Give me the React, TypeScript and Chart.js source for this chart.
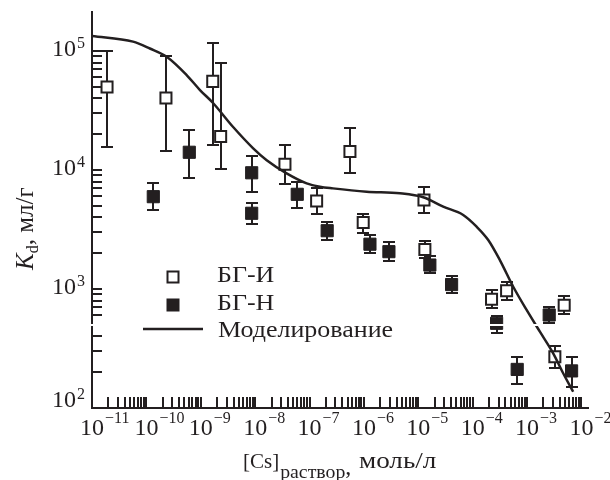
import React, { useEffect, useRef } from "react";
import { Chart, registerables } from "chart.js";

Chart.register(...registerables);

// ---------- data ----------
// БГ-И (open squares)
const openX = [1.89e-11, 2.29e-10, 1.66e-9, 2.32e-9, 3.53e-8, 1.35e-7, 5.53e-7, 9.7e-7, 1.27e-5, 1.32e-5, 2.22e-4, 4.2e-4, 3.24e-3, 4.81e-3];
const openY = [4.98e4, 4.03e4, 5.56e4, 1.91e4, 1.12e4, 5.48e3, 1.43e4, 3.62e3, 5.6e3, 2.15e3, 819, 968, 270, 729];
const openLow = [1.56e4, 1.45e4, 1.62e4, 1.02e4, 7.59e3, 4.27e3, 9.38e3, 2.97e3, 4.33e3, 1.81e3, 689, 809, 216, 617];
const openHigh = [1.0e5, 9.14e4, 1.17e5, 7.89e4, 1.62e4, 7.01e3, 2.24e4, 4.31e3, 7.24e3, 2.55e3, 981, 1140, 332, 873];

// БГ-Н (filled squares)
const filledX = [1.34e-10, 6.15e-10, 8.63e-9, 8.63e-9, 5.94e-8, 2.11e-7, 1.29e-6, 2.88e-6, 1.63e-5, 4.09e-5, 2.75e-4, 6.58e-4, 2.55e-3, 6.58e-3];
const filledY = [5.97e3, 1.41e4, 9.48e3, 4.33e3, 6.25e3, 3.09e3, 2.38e3, 2.06e3, 1.59e3, 1.09e3, 515, 211, 605, 205];
const filledLow = [4.61e3, 8.51e3, 6.58e3, 3.52e3, 4.77e3, 2.58e3, 2.0e3, 1.72e3, 1.36e3, 920, 430, 159, 515, 151];
const filledHigh = [7.73e3, 2.17e4, 1.31e4, 5.31e3, 7.98e3, 3.68e3, 2.84e3, 2.47e3, 1.89e3, 1.29e3, 593, 270, 710, 267];

// Моделирование (model curve)
const modelX = [1e-11, 5.68e-11, 1.16e-10, 2.36e-10, 5.5e-10, 9.66e-10, 1.68e-9, 3.9e-9, 9.1e-9, 1.63e-8, 3.79e-8, 8.85e-8, 1.55e-7, 2.69e-7, 1.12e-6, 4.59e-6, 1.23e-5, 2.87e-5, 6.69e-5, 1.18e-4, 1.93e-4, 3.16e-4, 5.56e-4, 9.8e-4, 1.72e-3, 3.02e-3, 4.61e-3, 7.03e-3];
const modelY = [1.34e5, 1.2e5, 1.05e5, 8.95e4, 6.28e4, 4.7e4, 3.66e4, 2.31e4, 1.53e4, 1.21e4, 9.38e3, 7.73e3, 7.24e3, 7.01e3, 6.58e3, 6.37e3, 5.9e3, 4.92e3, 4.19e3, 3.34e3, 2.58e3, 1.75e3, 1045, 667, 438, 288, 196, 137];

// axis tick exponents
const xTickExps = [-11, -10, -9, -8, -7, -6, -5, -4, -3, -2];
const yTickExps = [2, 3, 4, 5];
const X_MIN = 1e-11;
const X_MAX = Math.pow(10, -1.88);
const Y_MIN = 100;
const Y_MAX = Math.pow(10, 5.328);

const legendLabels = ["БГ-И", "БГ-Н", "Моделирование"];

// ---------- styling ----------
const INK = "#231f20";
const FONT = '"Liberation Serif", "Times New Roman", serif';

function drawText(
  ctx: CanvasRenderingContext2D,
  text: string,
  x: number,
  y: number,
  size: number,
  opts: { sx?: number; italic?: boolean; align?: "left" | "center" | "right" } = {}
) {
  const sx = opts.sx ?? 1;
  ctx.save();
  ctx.font = `${opts.italic ? "italic " : ""}${size}px ${FONT}`;
  const w = ctx.measureText(text).width * sx;
  let left = x;
  if (opts.align === "center") left = x - w / 2;
  else if (opts.align === "right") left = x - w;
  ctx.translate(left, y);
  ctx.scale(sx, 1);
  ctx.textAlign = "left";
  ctx.textBaseline = "alphabetic";
  ctx.fillStyle = INK;
  ctx.fillText(text, 0, 0);
  ctx.restore();
  return w;
}

function line(ctx: CanvasRenderingContext2D, x1: number, y1: number, x2: number, y2: number) {
  ctx.beginPath();
  ctx.moveTo(x1, y1);
  ctx.lineTo(x2, y2);
  ctx.stroke();
}

const decorPlugin = {
  id: "decor",
  beforeDatasetsDraw(chart: any) {
    const ctx: CanvasRenderingContext2D = chart.ctx;
    const xs = chart.scales.x;
    const ys = chart.scales.y;
    ctx.save();
    ctx.strokeStyle = INK;
    ctx.lineWidth = 2;
    const bars = (X: number[], lo: number[], hi: number[]) => {
      for (let i = 0; i < X.length; i++) {
        const px = Math.round(xs.getPixelForValue(X[i]));
        const p1 = Math.round(ys.getPixelForValue(hi[i]));
        const p2 = Math.round(ys.getPixelForValue(lo[i]));
        line(ctx, px, p1, px, p2);
        line(ctx, px - 6, p1, px + 6, p1);
        line(ctx, px - 6, p2, px + 6, p2);
      }
    };
    bars(openX, openLow, openHigh);
    bars(filledX, filledLow, filledHigh);
    ctx.restore();
  },
  afterDraw(chart: any) {
    const ctx: CanvasRenderingContext2D = chart.ctx;
    const xs = chart.scales.x;
    const ys = chart.scales.y;
    const area = chart.chartArea;
    ctx.save();
    ctx.strokeStyle = INK;
    ctx.lineWidth = 2;
    // x ticks (inward)
    xTickExps.forEach((e, idx) => {
      const last = idx === xTickExps.length - 1;
      for (let m = 1; m <= (last ? 1 : 9); m++) {
        const px = Math.round(xs.getPixelForValue(m * Math.pow(10, e)));
        line(ctx, px, area.bottom, px, area.bottom - 11);
      }
    });
    // y ticks (inward)
    yTickExps.forEach((e, idx) => {
      const last = idx === yTickExps.length - 1;
      for (let m = 1; m <= (last ? 1 : 9); m++) {
        const py = Math.round(ys.getPixelForValue(m * Math.pow(10, e)));
        line(ctx, area.left, py, area.left + 10, py);
      }
    });

    // thin white stripe (scan artefact across legend row)
    ctx.fillStyle = "#fff";
    ctx.fillRect(area.left - 6, 324, 456, 2);

    // x tick labels
    xTickExps.forEach((e) => {
      const px = xs.getPixelForValue(Math.pow(10, e));
      ctx.font = `24px ${FONT}`;
      const w = ctx.measureText("10").width;
      drawText(ctx, "10", px - w / 2, 435, 24);
      drawText(ctx, "\u2212" + Math.abs(e), px + w / 2 + 1, 423, 16);
    });
    // y tick labels
    yTickExps.forEach((e, idx) => {
      const py = ys.getPixelForValue(Math.pow(10, e));
      const base = idx === 0 ? py - 1 : py + 5;
      drawText(ctx, "10", 76, base, 24, { align: "right" });
      drawText(ctx, String(e), 77, base - 8, 16);
    });

    // legend
    ctx.lineWidth = 2;
    ctx.fillStyle = "#fff";
    ctx.strokeStyle = INK;
    ctx.fillRect(173 - 5.5, 277 - 5.5, 11, 11);
    ctx.strokeRect(173 - 5.5, 277 - 5.5, 11, 11);
    ctx.fillStyle = INK;
    ctx.fillRect(173 - 6.5, 305 - 6.5, 13, 13);
    ctx.lineWidth = 2.5;
    line(ctx, 143, 329, 203, 329);
    drawText(ctx, legendLabels[0], 217, 282, 23, { sx: 1.13 });
    drawText(ctx, legendLabels[1], 217, 310, 23, { sx: 1.13 });
    drawText(ctx, legendLabels[2], 218, 337, 23, { sx: 1.13 });

    // x title
    let cx = 243;
    cx += drawText(ctx, "[Cs]", cx, 468, 21);
    cx += drawText(ctx, "раствор", cx + 1, 478, 18, { sx: 1.1 }) + 1;
    drawText(ctx, ",", cx, 474, 24);
    drawText(ctx, "моль/л", 359, 468, 24, { sx: 1.13 });

    // y title (rotated)
    ctx.save();
    ctx.translate(33, 270);
    ctx.rotate(-Math.PI / 2);
    let tx = 0;
    tx += drawText(ctx, "K", tx, 0, 25, { italic: true });
    tx += drawText(ctx, "d", tx, 5, 16);
    drawText(ctx, ", мл/г", tx, 0, 25);
    ctx.restore();

    ctx.restore();
  },
};

export default function App() {
  const ref = useRef<HTMLCanvasElement>(null);
  useEffect(() => {
    const canvas = ref.current;
    if (!canvas) return;
    const chart = new Chart(canvas, {
      type: "scatter",
      data: {
        datasets: [
          {
            label: legendLabels[2],
            data: modelX.map((x, i) => ({ x, y: modelY[i] })),
            showLine: true,
            pointRadius: 0,
            borderColor: INK,
            borderWidth: 2.5,
            cubicInterpolationMode: "monotone",
            fill: false,
          } as any,
          {
            label: legendLabels[0],
            data: openX.map((x, i) => ({ x, y: openY[i] })),
            pointStyle: "rect",
            pointRadius: 7.8,
            pointBorderWidth: 2,
            pointBackgroundColor: "#fff",
            pointBorderColor: INK,
            borderColor: INK,
            backgroundColor: "#fff",
          },
          {
            label: legendLabels[1],
            data: filledX.map((x, i) => ({ x, y: filledY[i] })),
            pointStyle: "rect",
            pointRadius: 8.6,
            pointBorderWidth: 1,
            pointBackgroundColor: INK,
            pointBorderColor: INK,
            borderColor: INK,
            backgroundColor: INK,
          },
        ],
      },
      options: {
        responsive: false,
        animation: false,
        devicePixelRatio: 1,
        layout: { padding: { left: 92, top: 12, right: 22, bottom: 72 }, autoPadding: false } as any,
        plugins: { legend: { display: false }, tooltip: { enabled: false } },
        scales: {
          x: {
            type: "logarithmic",
            min: X_MIN,
            max: X_MAX,
            grid: { display: false, drawTicks: false },
            ticks: { display: false },
            border: { display: true, color: INK, width: 2 },
          },
          y: {
            type: "logarithmic",
            min: Y_MIN,
            max: Y_MAX,
            grid: { display: false, drawTicks: false },
            ticks: { display: false },
            border: { display: true, color: INK, width: 2 },
          },
        },
      },
      plugins: [decorPlugin],
    });
    return () => chart.destroy();
  }, []);
  return (
    <div style={{ position: "fixed", left: 0, top: 0, width: 610, height: 480, background: "#fff" }}>
      <canvas ref={ref} width={610} height={480} style={{ display: "block", width: 610, height: 480 }} />
    </div>
  );
}
